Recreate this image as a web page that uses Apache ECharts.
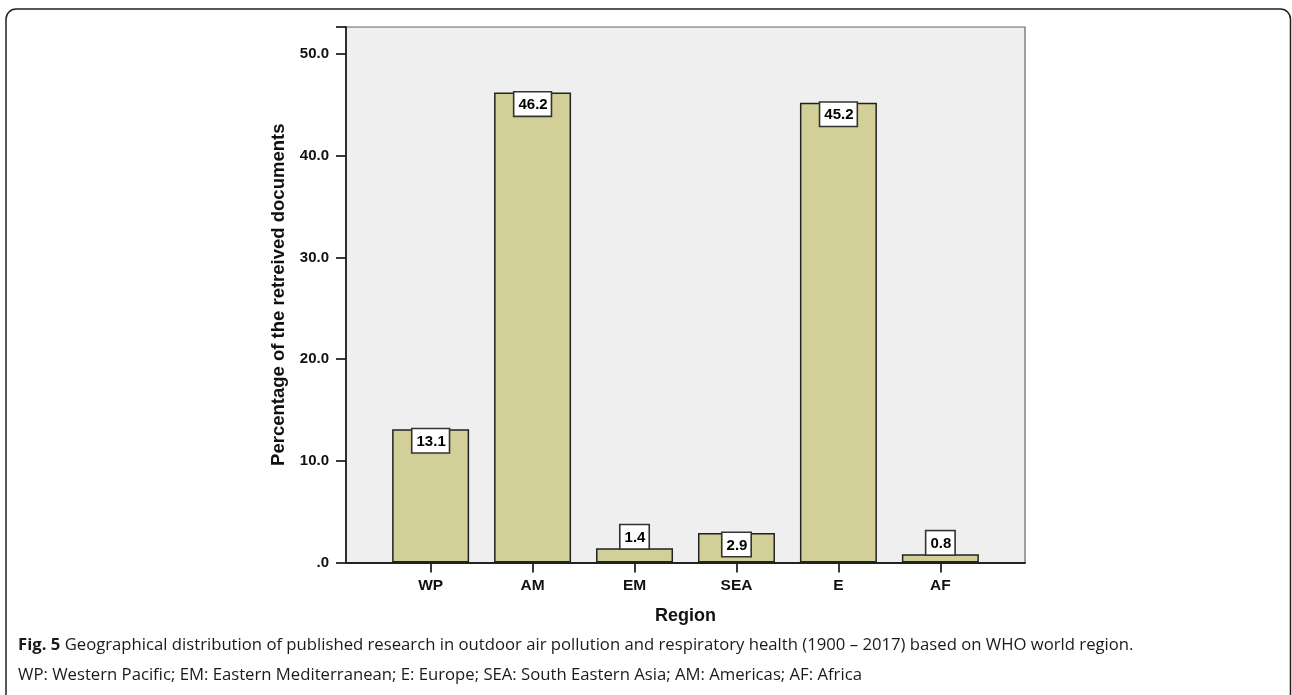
<!DOCTYPE html>
<html>
<head>
<meta charset="utf-8">
<script src="https://cdn.jsdelivr.net/npm/echarts@6/dist/echarts.min.js"></script>
<style>
html,body{margin:0;padding:0;background:#fff;}
#c{width:1292px;height:695px;}
</style>
</head>
<body>
<div id="c"></div>
<script>
const categories = ['WP', 'AM', 'EM', 'SEA', 'E', 'AF'];
const values = [13.1, 46.2, 1.4, 2.9, 45.2, 0.8];
const yTicks = [0, 10, 20, 30, 40, 50];
const yAxisTitle = 'Percentage of the retreived documents';
const xAxisTitle = 'Region';
const captionBold = 'Fig. 5';
const captionLine1 = ' Geographical distribution of published research in outdoor air pollution and respiratory health (1900 \u2013 2017) based on WHO world region.';
const captionLine2 = 'WP: Western Pacific; EM: Eastern Mediterranean; E: Europe; SEA: South Eastern Asia; AM: Americas; AF: Africa';

const chart = echarts.init(document.getElementById('c'), null, {renderer: 'canvas'});
const axisFont = 'Liberation Sans, Arial, sans-serif';

const barData = values.map((v, i) => ({
  value: [i, v],
  label: { position: v > 2.5 ? 'insideTop' : 'top' }
}));

const option = {
  animation: false,
  backgroundColor: '#fff',
  graphic: [
    {
      type: 'rect',
      shape: { x: 6, y: 9, width: 1284.5, height: 720, r: 10 },
      style: { fill: 'none', stroke: '#222', lineWidth: 1.5 },
      z: -10
    },
    {
      type: 'text',
      left: 18,
      top: 637,
      style: {
        text: '{b|' + captionBold + '}{n|' + captionLine1 + '}\n{n|' + captionLine2 + '}',
        rich: {
          b: { fontFamily: 'Open Sans', fontWeight: 'bold', fontSize: 16.7, fill: '#1a1a1a', lineHeight: 30 },
          n: { fontFamily: 'Open Sans', fontSize: 16.7, fill: '#1a1a1a', lineHeight: 30 }
        }
      }
    }
  ],
  grid: {
    left: 346, top: 27, right: 267, bottom: 132.5,
    show: true,
    backgroundColor: '#efefef',
    borderColor: '#666',
    borderWidth: 1.2
  },
  xAxis: {
    type: 'value',
    min: -0.83,
    max: 5.83,
    name: xAxisTitle,
    nameLocation: 'middle',
    nameGap: 45,
    nameTextStyle: { fontFamily: axisFont, fontWeight: 'bold', fontSize: 18, color: '#111' },
    axisLine: { show: true, onZero: false, lineStyle: { color: '#222', width: 1.8 } },
    axisTick: { show: true, customValues: categories.map((c, i) => i), length: 10, lineStyle: { color: '#222', width: 1.8 } },
    axisLabel: {
      customValues: categories.map((c, i) => i),
      formatter: v => categories[Math.round(v)] || '',
      fontFamily: axisFont, fontWeight: 'bold', fontSize: 15.5, color: '#111', margin: 15
    },
    splitLine: { show: false }
  },
  yAxis: {
    type: 'value',
    min: 0,
    max: 52.65,
    interval: 10,
    name: yAxisTitle,
    nameLocation: 'middle',
    nameGap: 57.5,
    nameTextStyle: { fontFamily: axisFont, fontWeight: 'bold', fontSize: 18.5, color: '#111' },
    axisLine: { show: true, onZero: false, lineStyle: { color: '#222', width: 1.8 } },
    axisTick: { show: true, length: 10, lineStyle: { color: '#222', width: 1.8 } },
    axisLabel: {
      customValues: yTicks,
      formatter: v => v === 0 ? '.0' : v.toFixed(1),
      fontFamily: axisFont, fontWeight: 'bold', fontSize: 15, color: '#111', margin: 17
    },
    splitLine: { show: false }
  },
  series: [{
    type: 'bar',
    data: barData,
    barWidth: 77,
    itemStyle: { color: '#d3cf98', borderColor: '#222', borderWidth: 1.5 },
    label: {
      show: true,
      distance: 0,
      formatter: p => p.value[1].toFixed(1),
      fontFamily: axisFont, fontWeight: 'bold', fontSize: 15, color: '#000',
      backgroundColor: '#fff', borderColor: '#333', borderWidth: 1.6,
      padding: [5, 3, 3, 4]
    }
  }]
};
chart.setOption(option);
</script>
</body>
</html>
